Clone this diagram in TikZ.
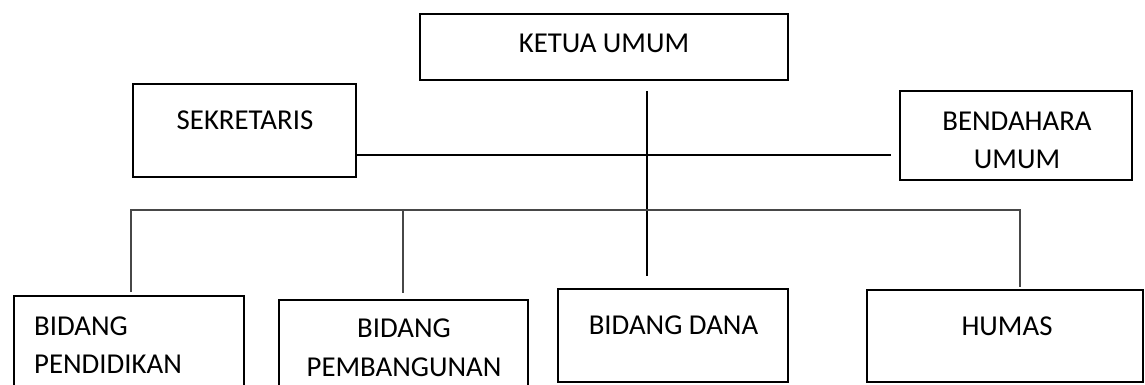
\documentclass[tikz,border=0pt]{standalone}
\usepackage{fontspec}
\setmainfont{Carlito}
\begin{document}
\begin{tikzpicture}[x=1pt,y=-1pt,
  box/.style={draw=black,line width=2.2pt,inner sep=0pt,rectangle},
  lbl/.style={font=\fontsize{28.8}{36}\selectfont,inner sep=0pt,anchor=base,text=black},
  conn/.style={draw=black,line width=1.2pt},
  bus/.style={draw=black!72,line width=1.4pt}]
\useasboundingbox (0,0) rectangle (1145,385);
\clip (0,0) rectangle (1145,385);
\fill[white] (0,0) rectangle (1145,385);
% boxes
\node[box,minimum width=367.8pt,minimum height=65.8pt] (ketua) at (604,47) {};
\node[box,minimum width=222.8pt,minimum height=92.8pt] (sek) at (244.5,130.5) {};
\node[box,minimum width=231.8pt,minimum height=88.8pt] (bend) at (1016,135.5) {};
\node[box,minimum width=229.8pt,minimum height=102.8pt] (pend) at (129,347.5) {};
\node[box,minimum width=248.8pt,minimum height=98.8pt] (pemb) at (403.5,349.5) {};
\node[box,minimum width=229.8pt,minimum height=92.8pt] (dana) at (673,335.5) {};
\node[box,minimum width=275.8pt,minimum height=91.8pt] (humas) at (1005,336) {};
% labels
\node[lbl] (tketua) at (604,52.3) {KETUA UMUM};
\node[lbl] (tsek) at (245,129.5) {SEKRETARIS};
\node[lbl] (tbend1) at (1017,131) {BENDAHARA};
\node[lbl] (tbend2) at (1017,168.5) {UMUM};
\node[lbl,anchor=base west] (tpend1) at (34,335) {BIDANG};
\node[lbl,anchor=base west] (tpend2) at (34,373.5) {PENDIDIKAN};
\node[lbl] (tpemb1) at (404,337.5) {BIDANG};
\node[lbl] (tpemb2) at (404,376.5) {PEMBANGUNAN};
\node[lbl] (tdana) at (673.5,334) {BIDANG DANA};
\node[lbl] (thumas) at (1007,335.5) {HUMAS};
% connector coordinates
\coordinate (vTop) at (647,91);
\coordinate (vBot) at (647,276);
\coordinate (hubR) at (891,155);
\coordinate (busL) at (131,210);
\coordinate (busR) at (1020,210);
\coordinate (pendT) at (131,292);
\coordinate (pembB) at (403,210);
\coordinate (pembT) at (403,293);
\coordinate (humT) at (1020,287);
% connectors
\draw[conn] (vTop) -- (vBot);
\draw[conn] (sek.east |- hubR) -- (hubR);
\draw[bus] (pendT) -- (busL) -- (busR) -- (humT);
\draw[bus] (pembB) -- (pembT);
\end{tikzpicture}
\end{document}
